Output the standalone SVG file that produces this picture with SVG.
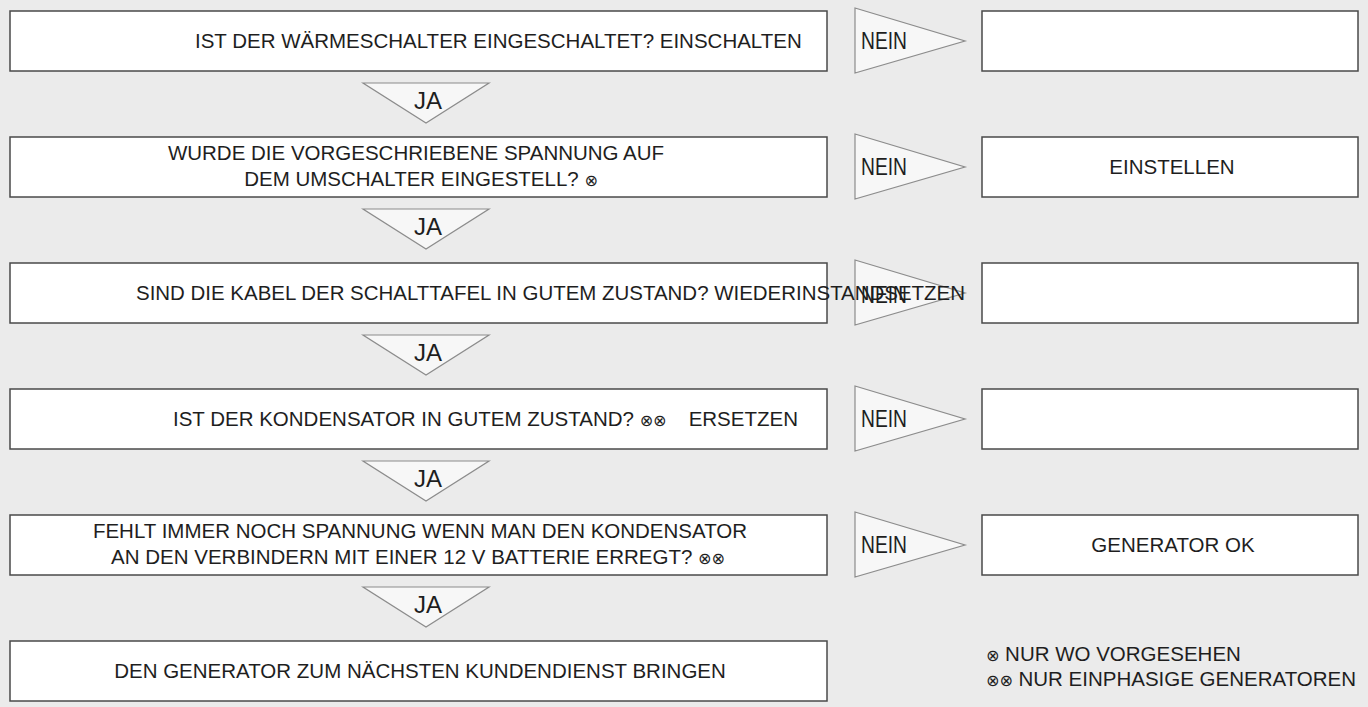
<svg xmlns="http://www.w3.org/2000/svg" width="1368" height="707" viewBox="0 0 1368 707">
<style>
.bg{fill:#ebebeb}
.box{fill:#ffffff;stroke:#4a4a4a;stroke-width:1.5}
.tri{fill:#f7f7f7;stroke:#8c8c8c;stroke-width:1.2}
text{font-family:"Liberation Sans",Arial,sans-serif;font-size:20.5px;fill:#1e1e1e}
.c{text-anchor:middle}
.lbl{font-size:24px}
.ja{font-size:23px;text-anchor:middle}
.sym{font-family:"DejaVu Sans",sans-serif;font-size:16px}
</style>
<defs>
<polygon id="ja" class="tri" points="363,0 489,0 426,40"/>
<polygon id="nein" class="tri" points="855,-33 965,0 855,32"/>
</defs>
<rect class="bg" x="0" y="0" width="1368" height="707"/>

<g id="connectors">
<g transform="translate(0,83)"><use href="#ja"/><text class="ja" x="428" y="26" textLength="28" lengthAdjust="spacingAndGlyphs">JA</text></g>
<g transform="translate(0,209)"><use href="#ja"/><text class="ja" x="428" y="26" textLength="28" lengthAdjust="spacingAndGlyphs">JA</text></g>
<g transform="translate(0,335)"><use href="#ja"/><text class="ja" x="428" y="26" textLength="28" lengthAdjust="spacingAndGlyphs">JA</text></g>
<g transform="translate(0,461)"><use href="#ja"/><text class="ja" x="428" y="26" textLength="28" lengthAdjust="spacingAndGlyphs">JA</text></g>
<g transform="translate(0,587)"><use href="#ja"/><text class="ja" x="428" y="26" textLength="28" lengthAdjust="spacingAndGlyphs">JA</text></g>
<g transform="translate(0,41)"><use href="#nein"/><text class="lbl" x="861" y="8" textLength="46" lengthAdjust="spacingAndGlyphs">NEIN</text></g>
<g transform="translate(0,167)"><use href="#nein"/><text class="lbl" x="861" y="8" textLength="46" lengthAdjust="spacingAndGlyphs">NEIN</text></g>
<g transform="translate(0,293)"><use href="#nein"/><text class="lbl" x="861" y="10" textLength="46" lengthAdjust="spacingAndGlyphs">NEIN</text></g>
<g transform="translate(0,419)"><use href="#nein"/><text class="lbl" x="861" y="8" textLength="46" lengthAdjust="spacingAndGlyphs">NEIN</text></g>
<g transform="translate(0,545)"><use href="#nein"/><text class="lbl" x="861" y="8" textLength="46" lengthAdjust="spacingAndGlyphs">NEIN</text></g>
</g>

<g id="q1">
<rect class="box" x="10" y="11" width="817" height="60"/>
<text x="195" y="48">IST DER WÄRMESCHALTER EINGESCHALTET? EINSCHALTEN</text>
</g>
<g id="a1">
<rect class="box" x="982" y="11" width="376" height="60"/>
</g>

<g id="q2">
<rect class="box" x="10" y="137" width="817" height="60"/>
<text class="c" x="416" y="160">WURDE DIE VORGESCHRIEBENE SPANNUNG AUF</text>
<text class="c" x="421" y="186">DEM UMSCHALTER EINGESTELL? <tspan class="sym">⊗</tspan></text>
</g>
<g id="a2">
<rect class="box" x="982" y="137" width="376" height="60"/>
<text class="c" x="1172" y="174">EINSTELLEN</text>
</g>

<g id="q3">
<rect class="box" x="10" y="263" width="817" height="60"/>
<text x="136" y="300" textLength="829" lengthAdjust="spacingAndGlyphs">SIND DIE KABEL DER SCHALTTAFEL IN GUTEM ZUSTAND? WIEDERINSTANDSETZEN</text>
</g>
<g id="a3">
<rect class="box" x="982" y="263" width="376" height="60"/>
</g>

<g id="q4">
<rect class="box" x="10" y="389" width="817" height="60"/>
<text x="173" y="426">IST DER KONDENSATOR IN GUTEM ZUSTAND? <tspan class="sym">⊗⊗</tspan></text>
<text x="798" y="426" style="text-anchor:end">ERSETZEN</text>
</g>
<g id="a4">
<rect class="box" x="982" y="389" width="376" height="60"/>
</g>

<g id="q5">
<rect class="box" x="10" y="515" width="817" height="60"/>
<text class="c" x="420" y="538">FEHLT IMMER NOCH SPANNUNG WENN MAN DEN KONDENSATOR</text>
<text class="c" x="418" y="564">AN DEN VERBINDERN MIT EINER 12 V BATTERIE ERREGT? <tspan class="sym">⊗⊗</tspan></text>
</g>
<g id="a5">
<rect class="box" x="982" y="515" width="376" height="60"/>
<text class="c" x="1173" y="552">GENERATOR OK</text>
</g>

<g id="q6">
<rect class="box" x="10" y="641" width="817" height="60"/>
<text class="c" x="420" y="678">DEN GENERATOR ZUM NÄCHSTEN KUNDENDIENST BRINGEN</text>
</g>

<g id="legend">
<text x="986" y="661"><tspan class="sym">⊗</tspan> NUR WO VORGESEHEN</text>
<text x="986" y="686"><tspan class="sym">⊗⊗</tspan> NUR EINPHASIGE GENERATOREN</text>
</g>
</svg>
